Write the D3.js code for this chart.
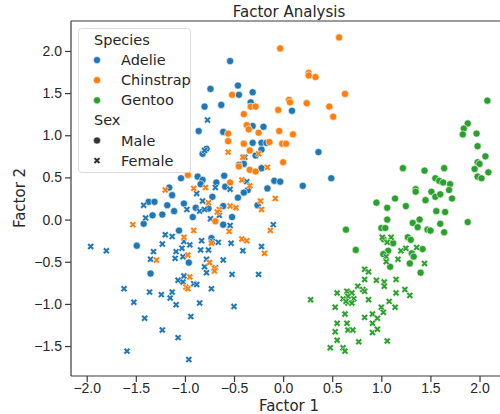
<!DOCTYPE html>
<html>
<head>
<meta charset="utf-8">
<script src="https://cdn.jsdelivr.net/npm/d3@7"></script>
<style>
  body { margin: 0; background: #fff; }
  svg { display: block; font-family: "DejaVu Sans", sans-serif; }
</style>
</head>
<body>
<script>
// values: [factor1, factor2]
const adelieMale = [[-0.54,1.88],[-0.46,1.59],[-0.45,1.48],[-0.74,1.55],[-0.31,1.51],[-0.33,1.39],[-0.80,1.34],[-0.63,1.36],[0.09,1.29],[-0.86,1.05],[-0.61,1.04],[-0.31,1.11],[-0.20,1.10],[-0.78,0.84],[-0.82,0.78],[-0.31,0.91],[-0.22,0.91],[-0.17,0.91],[-0.22,0.83],[-0.28,0.76],[0.36,0.80],[-0.40,0.66],[-0.45,0.65],[-0.22,0.61],[0.49,0.49],[-1.04,0.49],[-0.87,0.51],[-0.82,0.47],[-0.84,0.42],[-0.60,0.52],[-0.68,0.44],[-0.09,0.46],[-0.03,0.45],[0.20,0.40],[-0.59,0.39],[-0.36,0.35],[-0.40,0.32],[-0.46,0.26],[-0.16,0.37],[-1.16,0.38],[-1.13,0.29],[-1.37,0.21],[-1.31,0.21],[-1.18,0.17],[-1.01,0.19],[-0.72,0.27],[-0.89,0.14],[-0.76,0.13],[-0.61,0.16],[-0.26,0.17],[-1.11,0.10],[-1.33,0.05],[-1.23,0.06],[-0.92,0.03],[-1.42,-0.05],[-0.61,-0.06],[-0.52,0.03],[-1.06,-0.13],[-0.73,-0.22],[-1.49,-0.31],[-0.96,-0.51],[-1.35,-0.64]];
const adelieFemale = [[-0.77,1.18],[-0.80,0.82],[-0.39,0.74],[-1.42,0.17],[-1.40,0.02],[-0.88,0.31],[-0.82,0.22],[-0.98,0.12],[-0.85,0.10],[-0.80,0.12],[-0.69,0.38],[-0.54,0.36],[-0.37,0.45],[-0.74,0.01],[-0.65,0.05],[-0.10,-0.06],[-0.54,-0.07],[-1.20,-0.18],[-1.13,-0.20],[-1.23,-0.29],[-1.01,-0.26],[-0.83,-0.25],[-0.84,-0.36],[-0.76,-0.36],[-0.95,-0.30],[-0.72,-0.26],[-0.66,-0.27],[-0.53,-0.28],[-1.32,-0.38],[-1.09,-0.38],[-1.03,-0.34],[-1.10,-0.46],[-1.02,-0.44],[-1.35,-0.47],[-1.96,-0.32],[-1.80,-0.37],[-0.41,-0.37],[-0.22,-0.32],[-0.78,-0.47],[-0.61,-0.48],[-0.80,-0.56],[-0.69,-0.57],[-0.78,-0.63],[-0.52,-0.65],[-0.25,-0.65],[-1.01,-0.67],[-1.07,-0.72],[-1.02,-0.74],[-0.91,-0.76],[-0.88,-0.77],[-0.73,-0.82],[-1.62,-0.82],[-1.36,-0.86],[-1.13,-0.86],[-1.24,-0.89],[-1.15,-0.93],[-1.52,-0.98],[-1.09,-1.01],[-0.85,-0.99],[-0.50,-1.03],[-1.41,-1.17],[-0.94,-1.15],[-1.23,-1.31],[-1.07,-1.40],[-1.59,-1.56],[-0.96,-1.66]];
const chinstrapMale = [[-0.03,2.03],[0.57,2.16],[0.26,1.74],[0.26,1.71],[0.33,1.69],[0.63,1.49],[-0.52,1.48],[0.06,1.42],[0.07,1.39],[0.24,1.38],[0.47,1.34],[-0.33,1.34],[-0.28,1.34],[-0.05,1.30],[0.51,1.22],[-0.40,1.25],[-0.37,1.12],[-0.35,1.07],[-0.25,1.03],[-0.04,1.05],[0.10,1.01],[-0.56,1.02],[-0.40,0.90],[-0.56,0.93],[-0.14,0.92],[-0.01,0.90],[0.03,0.90],[-0.34,0.82],[0.00,0.68],[-0.45,0.63],[-0.34,0.59],[-0.28,0.57],[-0.97,0.53],[-0.54,0.44],[-0.69,-0.02]];
const chinstrapFemale = [[-0.56,0.80],[-0.41,0.74],[-0.25,0.78],[-0.16,0.62],[-0.42,0.47],[-0.34,0.40],[-1.20,0.35],[-0.91,0.37],[-0.79,0.38],[-0.76,0.20],[-0.23,0.22],[-0.22,0.12],[-0.08,0.25],[-0.65,0.12],[-0.67,0.09],[-0.54,0.16],[-0.48,0.14],[-1.53,-0.06],[-0.91,-0.13],[-0.55,-0.14],[-0.13,-0.13],[-1.01,-0.21],[-0.73,-0.28],[-0.42,-0.23],[-0.37,-0.25],[-1.29,-0.48],[-0.97,-0.42],[-0.19,-0.40],[-0.75,-0.51],[-0.70,-0.58],[-0.70,-0.61],[-0.95,-0.68],[-0.99,-0.80],[-0.97,-0.82]];
const gentooMale = [[2.08,1.41],[1.88,1.14],[1.84,1.08],[1.83,1.01],[1.97,1.02],[1.98,0.87],[2.06,0.75],[1.98,0.68],[2.00,0.66],[1.95,0.60],[1.98,0.51],[2.02,0.49],[2.09,0.56],[1.22,0.61],[1.64,0.61],[1.44,0.58],[1.55,0.49],[1.59,0.46],[1.63,0.44],[1.70,0.42],[1.35,0.36],[1.35,0.33],[1.51,0.33],[1.69,0.35],[1.55,0.27],[1.60,0.30],[1.45,0.23],[1.72,0.25],[1.14,0.25],[0.95,0.20],[1.06,0.14],[1.25,0.16],[1.56,0.10],[1.65,0.09],[1.06,0.00],[1.39,0.00],[1.32,-0.04],[1.37,-0.09],[1.60,-0.05],[1.88,-0.03],[1.47,-0.12],[1.50,-0.13],[1.64,-0.15],[0.64,-0.12],[1.00,-0.10],[1.04,-0.10],[1.02,-0.23],[1.12,-0.28],[1.27,-0.21],[1.30,-0.24],[1.42,-0.35],[0.74,-0.36],[1.07,-0.37],[1.02,-0.41],[1.31,-0.40],[1.33,-0.44],[1.29,-0.52],[1.09,-0.56],[1.40,-0.63]];
const gentooFemale = [[1.01,-0.21],[1.10,-0.21],[1.06,-0.27],[1.20,-0.37],[1.25,-0.34],[1.36,-0.33],[1.05,-0.44],[1.17,-0.47],[1.05,-0.50],[1.44,-0.52],[0.83,-0.59],[0.87,-0.62],[0.83,-0.71],[0.95,-0.72],[1.03,-0.74],[1.03,-0.79],[1.15,-0.71],[0.76,-0.79],[0.81,-0.83],[0.83,-0.85],[0.55,-0.87],[0.65,-0.85],[0.70,-0.87],[0.72,-0.94],[0.66,-0.91],[0.61,-0.94],[0.66,-0.99],[0.70,-0.99],[0.64,-0.97],[0.87,-0.95],[1.24,-0.83],[1.29,-0.90],[1.15,-0.87],[1.08,-0.97],[1.14,-1.04],[1.00,-1.04],[1.02,-1.10],[0.91,-1.12],[0.96,-1.17],[0.83,-1.16],[0.53,-1.04],[0.63,-1.12],[0.55,-1.23],[0.65,-1.23],[0.53,-1.33],[0.66,-1.31],[0.71,-1.31],[0.91,-1.23],[0.91,-1.34],[0.96,-1.30],[0.55,-1.43],[0.77,-1.45],[1.06,-1.44],[0.48,-1.52],[0.61,-1.52],[0.63,-1.56],[0.28,-0.95]];

const species = ["Adelie", "Chinstrap", "Gentoo"];
const sexes = ["Male", "Female"];
const colors = ["#1f77b4", "#ff7f0e", "#2ca02c"];
const xTicks = [-2.0, -1.5, -1.0, -0.5, 0.0, 0.5, 1.0, 1.5, 2.0];
const yTicks = [-1.5, -1.0, -0.5, 0.0, 0.5, 1.0, 1.5, 2.0];

// draw order like the dataset: Adelie, Gentoo, Chinstrap
const groups = [
  { sp: 0, sex: 0, pts: adelieMale }, { sp: 0, sex: 1, pts: adelieFemale },
  { sp: 2, sex: 0, pts: gentooMale }, { sp: 2, sex: 1, pts: gentooFemale },
  { sp: 1, sex: 0, pts: chinstrapMale }, { sp: 1, sex: 1, pts: chinstrapFemale }
];

const W = 500, H = 414;
const margin = { left: 71, top: 21, right: -8, bottom: 38 };

const svg = d3.select("body").append("svg")
  .attr("width", W).attr("height", H);

const x = d3.scaleLinear().domain([-2.16, 2.29]).range([margin.left, W - margin.right]);
const y = d3.scaleLinear().domain([-1.855, 2.355]).range([H - margin.bottom, margin.top]);

const crossPath = d3.symbol(d3.symbolCross, 30)();

function marker(sel, sex, color) {
  if (sex === 0) {
    sel.append("circle").attr("r", 3.6)
      .attr("fill", color).attr("stroke", "#fff").attr("stroke-width", 0.6);
  } else {
    sel.append("path").attr("d", crossPath).attr("transform", "rotate(45)")
      .attr("fill", color).attr("stroke", "#fff").attr("stroke-width", 0.5);
  }
}

// points
groups.forEach(g => {
  const sel = svg.append("g").selectAll("g")
    .data(g.pts).enter().append("g")
    .attr("transform", d => `translate(${x(d[0])},${y(d[1])})`);
  marker(sel, g.sex, colors[g.sp]);
});

// axes
const fmt = d3.format(".1f");
const minus = s => s.replace("-", "\u2212");
const xAxis = svg.append("g")
  .attr("transform", `translate(0,${H - margin.bottom})`)
  .call(d3.axisBottom(x).tickValues(xTicks).tickFormat(d => minus(fmt(d))).tickSize(6).tickPadding(1));
const yAxis = svg.append("g")
  .attr("transform", `translate(${margin.left},0)`)
  .call(d3.axisLeft(y).tickValues(yTicks).tickFormat(d => minus(fmt(d))).tickSize(6).tickPadding(3));
[xAxis, yAxis].forEach(a => {
  a.selectAll("path, line").attr("stroke", "#3a3a3a").attr("stroke-width", 1.2);
  a.selectAll("text").attr("fill", "#262626").style("font-size", "14px");
});
yAxis.select(".domain").attr("d", `M0,${margin.top}V${H - margin.bottom}`);
xAxis.select(".domain").attr("d", `M${margin.left},0H${W - margin.right}`);

// top spine
svg.append("line")
  .attr("x1", margin.left).attr("x2", W - margin.right)
  .attr("y1", margin.top).attr("y2", margin.top)
  .attr("stroke", "#3a3a3a").attr("stroke-width", 1.2);

// title and labels
svg.append("text").attr("x", 289).attr("y", 17).attr("text-anchor", "middle")
  .style("font-size", "15px").attr("fill", "#262626").text("Factor Analysis");
svg.append("text").attr("x", 289).attr("y", 411).attr("text-anchor", "middle")
  .style("font-size", "15px").attr("fill", "#262626").text("Factor 1");
svg.append("text").attr("transform", "translate(25,198) rotate(-90)").attr("text-anchor", "middle")
  .style("font-size", "15px").attr("fill", "#262626").text("Factor 2");

// legend
const lg = svg.append("g");
lg.append("rect").attr("x", 78.5).attr("y", 28.5).attr("width", 112).attr("height", 144)
  .attr("rx", 3).attr("fill", "#fff").attr("fill-opacity", 0.8)
  .attr("stroke", "#dcdcdc").attr("stroke-width", 1);

const rows = [
  { label: "Species", title: true },
  ...species.map((s, i) => ({ label: s, sex: 0, color: colors[i] })),
  { label: "Sex", title: true },
  ...sexes.map((s, i) => ({ label: s, sex: i, color: "#333" }))
];
rows.forEach((r, i) => {
  const cy = 40 + i * 20.1;
  if (r.title) {
    lg.append("text").attr("x", 94).attr("y", cy + 5).style("font-size", "14.5px")
      .attr("fill", "#262626").text(r.label);
  } else {
    const m = lg.append("g").attr("transform", `translate(97,${cy})`);
    marker(m, r.sex, r.color);
    lg.append("text").attr("x", 121).attr("y", cy + 5).style("font-size", "14.5px")
      .attr("fill", "#262626").text(r.label);
  }
});
</script>
</body>
</html>
